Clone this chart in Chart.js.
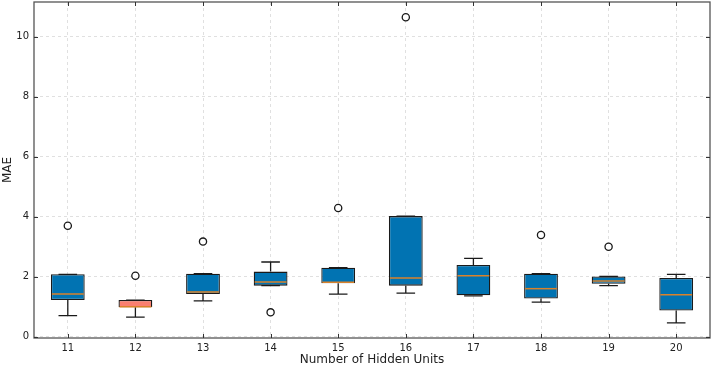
<!DOCTYPE html>
<html>
<head>
<meta charset="utf-8">
<script src="https://cdn.jsdelivr.net/npm/chart.js@4/dist/chart.umd.min.js"></script>
<style>
  html, body { margin: 0; padding: 0; background: #fff; }
  #wrap { width: 713px; height: 368px; }
</style>
</head>
<body>
<div id="wrap"><canvas id="c" width="713" height="368"></canvas></div>
<script>
// ---- data ----
const categories  = ['11', '12', '13', '14', '15', '16', '17', '18', '19', '20'];
const whiskerLow  = [0.70, 0.65, 1.19, 1.70, 1.42, 1.45, 1.36, 1.15, 1.70, 0.46];
const q1          = [1.22, 0.98, 1.42, 1.70, 1.78, 1.70, 1.38, 1.27, 1.76, 0.87];
const medians     = [1.42, 1.00, 1.49, 1.82, 1.81, 1.96, 2.03, 1.60, 1.86, 1.40];
const q3          = [2.08, 1.22, 2.10, 2.17, 2.30, 4.02, 2.39, 2.10, 2.01, 1.96];
const whiskerHigh = [2.08, 1.22, 2.10, 2.49, 2.30, 4.02, 2.61, 2.10, 2.01, 2.08];
const outliers    = [3.70, 2.03, 3.17, 0.81, 4.29, 10.65, null, 3.39, 3.00, null];
const yTicks      = [0, 2, 4, 6, 8, 10];
const boxColors   = ['#0173B2', '#FA7F70', '#0173B2', '#0173B2', '#0173B2',
                     '#0173B2', '#0173B2', '#0173B2', '#0173B2', '#0173B2'];

const FONT = "'DejaVu Sans', sans-serif";
const FRAME = '#555555';

const boxPlugin = {
  id: 'boxParts',
  afterDatasetDraw(chart, args) {
    if (args.index !== 0) return;
    const ctx = chart.ctx, x = chart.scales.x, y = chart.scales.y;
    const meta = chart.getDatasetMeta(0);
    ctx.save();
    categories.forEach((c, i) => {
      const bar = meta.data[i];
      const cx = x.getPixelForValue(i);
      const half = bar.width / 2;
      const capHalf = half * 0.55;
      ctx.strokeStyle = '#1a1a1a';
      ctx.lineWidth = 1.3;
      ctx.beginPath();
      ctx.moveTo(cx, y.getPixelForValue(q1[i]));
      ctx.lineTo(cx, y.getPixelForValue(whiskerLow[i]));
      ctx.moveTo(cx, y.getPixelForValue(q3[i]));
      ctx.lineTo(cx, y.getPixelForValue(whiskerHigh[i]));
      [whiskerLow[i], whiskerHigh[i]].forEach(v => {
        const py = y.getPixelForValue(v);
        ctx.moveTo(cx - capHalf, py);
        ctx.lineTo(cx + capHalf, py);
      });
      ctx.stroke();
      ctx.strokeStyle = '#D9822B';
      ctx.lineWidth = 1.5;
      ctx.beginPath();
      const my = y.getPixelForValue(medians[i]);
      ctx.moveTo(cx - half + 1, my);
      ctx.lineTo(cx + half - 1, my);
      ctx.stroke();
    });
    ctx.restore();
  },
  afterDraw(chart) {
    const ctx = chart.ctx, a = chart.chartArea, x = chart.scales.x, y = chart.scales.y;
    ctx.save();
    ctx.strokeStyle = FRAME;
    ctx.lineWidth = 1.3;
    ctx.strokeRect(a.left, a.top, a.right - a.left, a.bottom - a.top);
    ctx.lineWidth = 1;
    ctx.strokeStyle = '#333';
    ctx.beginPath();
    const tl = 4;
    yTicks.forEach(v => {
      const py = Math.round(y.getPixelForValue(v)) + 0.5;
      ctx.moveTo(a.left, py); ctx.lineTo(a.left + tl, py);
      ctx.moveTo(a.right, py); ctx.lineTo(a.right - tl, py);
    });
    categories.forEach((c, i) => {
      const px = Math.round(x.getPixelForValue(i)) + 0.5;
      ctx.moveTo(px, a.bottom); ctx.lineTo(px, a.bottom - tl);
      ctx.moveTo(px, a.top); ctx.lineTo(px, a.top + tl);
    });
    ctx.stroke();
    ctx.restore();
  }
};

new Chart(document.getElementById('c'), {
  type: 'bar',
  data: {
    labels: categories,
    datasets: [
      {
        type: 'bar',
        label: 'box',
        data: q1.map((v, i) => [v, q3[i]]),
        backgroundColor: boxColors,
        borderColor: '#1a1a1a',
        borderWidth: 1.3,
        borderSkipped: false,
        categoryPercentage: 1.0,
        barPercentage: 0.5,
        order: 2
      },
      {
        type: 'line',
        label: 'outliers',
        data: outliers,
        showLine: false,
        pointRadius: 3.6,
        pointBorderWidth: 1.3,
        pointBackgroundColor: '#ffffff',
        pointBorderColor: '#1a1a1a',
        order: 1
      }
    ]
  },
  options: {
    responsive: false,
    animation: false,
    events: [],
    layout: { autoPadding: false, padding: { top: 2, right: 3, left: 0, bottom: 0 } },
    plugins: { legend: { display: false }, tooltip: { enabled: false } },
    scales: {
      x: {
        type: 'category',
        offset: true,
        grid: { display: true, offset: false, color: '#d8d8d8', lineWidth: 0.8, drawTicks: false },
        border: { display: false, dash: [3, 3] },
        ticks: { font: { family: FONT, size: 10 }, color: '#222', padding: 4, maxRotation: 0 },
        title: { display: true, text: 'Number of Hidden Units', font: { family: FONT, size: 12 }, color: '#222', padding: { top: 0, bottom: 1 } },
        afterFit(s) { s.height = 30; s.paddingLeft = 0; s.paddingRight = 0; s.paddingTop = 0; s.paddingBottom = 0; }
      },
      y: {
        type: 'linear',
        min: -0.045,
        max: 11.16,
        grid: { color: '#d8d8d8', lineWidth: 0.8, drawTicks: false },
        border: { display: false, dash: [3, 3] },
        ticks: {
          font: { family: FONT, size: 10 }, color: '#222', padding: 5,
          stepSize: 2, includeBounds: false
        },
        afterBuildTicks(s) { s.ticks = yTicks.map(v => ({ value: v })); },
        title: { display: true, text: 'MAE', font: { family: FONT, size: 12 }, color: '#222', padding: { top: 1, bottom: 0 } },
        afterFit(s) { s.width = 34; s.paddingTop = 0; s.paddingBottom = 0; s.paddingLeft = 0; s.paddingRight = 0; }
      }
    }
  },
  plugins: [boxPlugin]
});
</script>
</body>
</html>
